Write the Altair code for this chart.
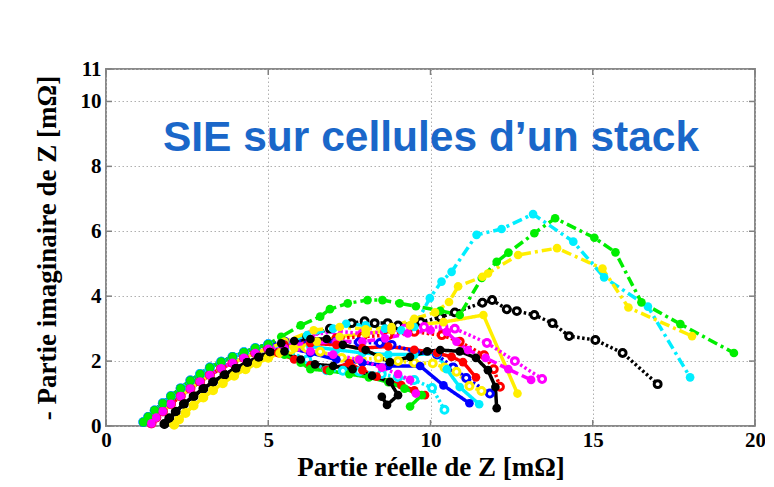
import altair as alt
import pandas as pd

title_text = "SIE sur cellules d\u2019un stack"
x_title = "Partie réelle de Z [mΩ]"
y_title = "- Partie imaginaire de Z [mΩ]"
x_ticks = [0, 5, 10, 15, 20]
y_ticks = [0, 2, 4, 6, 8, 10, 11]

# common high-frequency arcs
arcA_x = [1.15, 1.3, 1.5, 1.75, 2.0, 2.3, 2.6, 2.9, 3.2, 3.55, 3.9, 4.25, 4.6, 5.0]
arcA_y = [0.12, 0.28, 0.48, 0.7, 0.92, 1.16, 1.4, 1.6, 1.8, 1.98, 2.13, 2.27, 2.4, 2.52]
arcB_x = [1.4, 1.55, 1.75, 2.0, 2.3, 2.6, 2.9, 3.2, 3.55, 3.9, 4.25, 4.6, 5.0]
arcB_y = [0.08, 0.26, 0.45, 0.68, 0.92, 1.15, 1.37, 1.57, 1.78, 1.95, 2.1, 2.25, 2.38]
arcC_x = [1.8, 1.95, 2.15, 2.4, 2.7, 3.0, 3.3, 3.65, 4.0, 4.35, 4.7, 5.05]
arcC_y = [0.06, 0.24, 0.44, 0.68, 0.92, 1.15, 1.36, 1.58, 1.78, 1.96, 2.12, 2.28]
arcD_x = [2.1, 2.25, 2.45, 2.7, 3.0, 3.3, 3.6, 3.95, 4.3, 4.65, 5.0, 5.35]
arcD_y = [0.04, 0.2, 0.4, 0.63, 0.88, 1.1, 1.32, 1.55, 1.75, 1.93, 2.1, 2.25]

# low-frequency tails of each cell
s1_x = [5.5, 6.2, 7.0, 7.4, 8.0, 8.6, 9.1, 9.5, 9.98, 10.34, 10.65, 11.42, 12.19, 13.16, 14.4, 15.35, 16.7, 18.0]
s1_y = [2.55, 2.8, 3.0, 3.15, 3.1, 3.0, 2.95, 3.05, 3.94, 4.45, 4.75, 5.89, 6.07, 6.53, 5.68, 4.58, 3.68, 1.5]
s2_x = [5.4, 6.0, 6.6, 6.9, 7.45, 8.06, 8.52, 9.05, 9.55, 10.3, 10.9, 11.58, 12.04, 12.4, 13.2, 13.84, 15.05, 15.7, 16.5, 17.7, 19.35]
s2_y = [2.75, 3.1, 3.37, 3.6, 3.78, 3.88, 3.88, 3.78, 3.69, 3.55, 3.42, 4.56, 5.06, 5.34, 5.94, 6.4, 5.8, 5.35, 3.81, 3.14, 2.25]
s3_x = [5.5, 6.4, 7.2, 8.0, 8.8, 9.5, 10.14, 10.57, 10.85, 11.6, 11.77, 12.7, 13.9, 15.3, 16.1, 18.06]
s3_y = [2.6, 2.95, 3.05, 2.98, 3.05, 3.3, 3.5, 3.82, 4.3, 4.6, 4.7, 5.27, 5.48, 4.85, 3.65, 2.77]
s4_x = [5.5, 6.2, 6.9, 7.57, 7.97, 8.28, 8.68, 9.0, 9.7, 10.3, 10.75, 11.6, 11.9, 12.35, 12.66, 13.2, 13.76, 14.27, 15.08, 15.92, 17.0]
s4_y = [2.45, 2.75, 3.0, 3.17, 3.23, 3.17, 3.17, 3.1, 3.2, 3.35, 3.5, 3.8, 3.88, 3.6, 3.54, 3.42, 3.17, 2.77, 2.65, 2.25, 1.29]
s5_x = [5.4, 5.8, 6.3, 6.8, 7.3, 8.0, 8.75, 9.37, 9.9, 10.3, 10.9, 11.4, 11.77, 12.0, 12.04]
s5_y = [2.55, 2.62, 2.68, 2.68, 2.5, 2.34, 1.97, 2.13, 2.3, 2.34, 2.3, 2.1, 1.72, 1.2, 0.55]
s6_x = [5.8, 6.5, 7.2, 8.0, 8.8, 9.37, 10.4, 11.63, 12.68]
s6_y = [2.4, 2.6, 2.75, 2.85, 2.95, 3.1, 3.2, 3.42, 1.0]
s7_x = [5.5, 6.3, 7.1, 7.9, 8.6, 9.2, 9.8, 10.4, 10.75, 11.74, 12.6, 13.44]
s7_y = [2.6, 2.8, 2.92, 2.85, 2.9, 3.0, 3.05, 3.05, 3.0, 2.56, 2.0, 1.45]
s8_x = [5.5, 6.3, 7.1, 7.9, 8.6, 9.3, 10.0, 10.5, 10.8, 11.15, 11.7, 12.4, 13.1]
s8_y = [2.5, 2.55, 2.6, 2.6, 2.7, 2.85, 2.95, 2.9, 2.6, 2.34, 2.1, 1.75, 1.42]
s9_x = [5.5, 6.3, 7.1, 7.9, 8.7, 9.5, 10.35, 10.9, 11.65, 11.95, 12.14]
s9_y = [2.45, 2.6, 2.7, 2.75, 2.8, 2.9, 2.8, 2.6, 2.18, 1.75, 1.21]
s10_x = [5.5, 6.3, 7.1, 7.8, 8.44, 8.8, 9.5, 10.2, 10.7, 11.1, 11.83]
s10_y = [2.6, 2.6, 2.6, 2.58, 2.56, 2.5, 2.3, 2.2, 1.8, 1.48, 1.0]
s11_x = [5.5, 6.3, 7.1, 7.9, 8.7, 9.5, 10.2, 10.5, 10.9, 11.5]
s11_y = [2.5, 2.45, 2.35, 2.25, 2.2, 2.2, 2.24, 1.75, 1.2, 0.67]
s12_x = [5.7, 6.18, 6.6, 7.26, 7.8, 8.4, 9.0, 9.5, 10.07, 10.43, 10.8, 11.2, 11.57]
s12_y = [2.35, 2.4, 2.29, 2.1, 2.05, 2.1, 2.0, 1.95, 1.93, 1.8, 1.67, 1.23, 1.08]
s13_x = [5.5, 6.3, 7.1, 7.9, 8.7, 9.68, 10.4, 11.2]
s13_y = [2.45, 2.25, 2.05, 1.95, 1.85, 1.85, 1.25, 0.7]
s14_x = [5.3, 5.8, 6.3, 6.8, 7.5, 7.9, 8.34, 9.1, 9.5, 9.83]
s14_y = [2.25, 2.05, 1.88, 1.73, 1.93, 1.72, 1.52, 1.26, 1.1, 0.95]
s15_x = [5.5, 6.3, 7.1, 7.9, 8.7, 9.5, 10.2, 10.65, 11.0, 11.4]
s15_y = [2.5, 2.55, 2.5, 2.4, 2.45, 2.35, 2.25, 2.13, 1.97, 1.5]
s16_x = [5.5, 6.2, 6.8, 7.3, 7.8, 8.5, 9.0, 9.5, 10.05, 10.43]
s16_y = [2.35, 2.05, 1.72, 1.7, 1.68, 1.6, 1.5, 1.42, 1.17, 0.5]
s17_x = [5.5, 6.0, 6.3, 6.9, 7.5, 8.1, 8.7, 9.2, 9.73, 9.37]
s17_y = [2.2, 1.95, 1.75, 1.7, 1.6, 1.5, 1.35, 1.15, 0.95, 0.6]
s18_x = [5.5, 6.0, 6.44, 7.0, 7.6, 8.2, 8.75, 9.0, 8.66, 8.5]
s18_y = [2.3, 2.05, 1.9, 1.85, 1.75, 1.55, 1.36, 0.95, 0.65, 0.9]
s19_x = [5.5, 6.3, 7.0, 7.8, 8.5, 9.0, 9.37, 9.55]
s19_y = [2.4, 2.3, 2.2, 2.05, 1.8, 1.6, 1.42, 1.0]

BLUE, GREEN, RED, CYAN, MAG, YEL, BLK = "#0000ff", "#00ee00", "#ff0000", "#00eeff", "#ff00ff", "#ffee00", "#000000"

# (color, line style, marker, arc x, arc y, tail x, tail y)
series = [
    (CYAN, "dashdot", "filled", arcB_x, arcB_y, s1_x, s1_y),
    (GREEN, "dashdot", "filled", arcA_x, arcA_y, s2_x, s2_y),
    (YEL, "dashdot", "filled", arcB_x, arcB_y, s3_x, s3_y),
    (BLK, "dotted", "open", arcC_x, arcC_y, s4_x, s4_y),
    (MAG, "dotted", "open", arcB_x, arcB_y, s7_x, s7_y),
    (MAG, "dashed", "filled", arcB_x, arcB_y, s8_x, s8_y),
    (RED, "dotted", "open", arcB_x, arcB_y, s9_x, s9_y),
    (BLUE, "dotted", "open", arcA_x, arcA_y, s10_x, s10_y),
    (CYAN, "solid", "filled", arcA_x, arcA_y, s11_x, s11_y),
    (YEL, "dotted", "open", arcD_x, arcD_y, s12_x, s12_y),
    (BLUE, "solid", "filled", arcA_x, arcA_y, s13_x, s13_y),
    (RED, "solid", "filled", arcB_x, arcB_y, s14_x, s14_y),
    (RED, "solid", "filled", arcB_x, arcB_y, s15_x, s15_y),
    (CYAN, "dotted", "open", arcA_x, arcA_y, s16_x, s16_y),
    (GREEN, "solid", "filled", arcA_x, arcA_y, s17_x, s17_y),
    (MAG, "dotted", "filled", arcB_x, arcB_y, s19_x, s19_y),
    (YEL, "solid", "filled", arcD_x, arcD_y, s6_x, s6_y),
    (BLK, "solid", "filled", arcC_x, arcC_y, s18_x, s18_y),
    (BLK, "solid", "filled", arcC_x, arcC_y, s5_x, s5_y),
]

rows = []
for sid, (col, ls, mk, ax, ay, tx, ty) in enumerate(series):
    for i, (x, y) in enumerate(zip(list(ax) + list(tx), list(ay) + list(ty))):
        rows.append(dict(s=sid, c=col, ls=ls, mk=mk, x=x, y=y, o=i))
df = pd.DataFrame(rows)

xscale = alt.Scale(domain=[0, 20], nice=False)
yscale = alt.Scale(domain=[0, 11], nice=False)
xenc = alt.X("x:Q", scale=xscale,
             axis=alt.Axis(values=x_ticks, title=x_title, labelPadding=3, titlePadding=4,
                           labelFlush=False))
yenc = alt.Y("y:Q", scale=yscale,
             axis=alt.Axis(values=y_ticks, title=y_title, labelPadding=5, titlePadding=19,
                           labelFlush=False))
cenc = alt.Color("c:N", scale=None)

dash_patterns = {"solid": [1, 0], "dotted": [2.5, 2.5], "dashed": [8, 4], "dashdot": [10, 4, 3, 4]}
base = alt.Chart(df)
layers = []

# inward tick marks on the frame (MATLAB style)
xt = alt.Chart(pd.DataFrame({"x": x_ticks}))
yt = alt.Chart(pd.DataFrame({"y": y_ticks}))
tick_style = dict(color="#808080", strokeWidth=1.5)
layers.append(xt.mark_rule(**tick_style).encode(x=alt.X("x:Q", scale=xscale), y=alt.value(357), y2=alt.value(351)))
layers.append(xt.mark_rule(**tick_style).encode(x=alt.X("x:Q", scale=xscale), y=alt.value(0), y2=alt.value(6)))
layers.append(yt.mark_rule(**tick_style).encode(y=alt.Y("y:Q", scale=yscale), x=alt.value(0), x2=alt.value(6)))
layers.append(yt.mark_rule(**tick_style).encode(y=alt.Y("y:Q", scale=yscale), x=alt.value(649), x2=alt.value(643)))

for ls, pat in dash_patterns.items():
    layers.append(
        base.transform_filter(alt.datum.ls == ls)
        .mark_line(strokeWidth=3.5, strokeDash=pat)
        .encode(x=xenc, y=yenc, color=cenc, detail="s:N", order="o:Q")
    )
layers.append(
    base.transform_filter(alt.datum.mk == "open")
    .mark_point(filled=False, fill="white", shape="circle", size=48, strokeWidth=3, opacity=1)
    .encode(x=xenc, y=yenc, color=cenc)
)
layers.append(
    base.transform_filter(alt.datum.mk == "filled")
    .mark_point(filled=True, shape="circle", size=75, opacity=1)
    .encode(x=xenc, y=yenc, color=cenc)
)
title_layer = alt.Chart(pd.DataFrame({"t": [title_text]})).mark_text(
    font="Liberation Sans", fontWeight="bold", fontSize=42.5, color="#1a67c9",
    align="center", baseline="alphabetic"
).encode(text="t:N", x=alt.value(325), y=alt.value(82))
layers.append(title_layer)

chart = alt.layer(*layers).properties(
    width=649, height=357,
    autosize=alt.AutoSizeParams(type="none"),
    padding={"left": 98, "top": 61, "right": 10, "bottom": 60},
).configure_view(
    stroke="#8a8a8a", strokeWidth=2
).configure_axis(
    domain=False, ticks=False, grid=True,
    gridColor="#b0b0b0", gridDash=[1.5, 2.5], gridWidth=1,
    labelFont="Liberation Serif", labelFontWeight="bold", labelFontSize=21, labelColor="#000000",
    titleFont="Liberation Serif", titleFontWeight="bold", titleFontSize=27, titleColor="#000000",
)

chart.save("out.html", embed_options={"renderer": "svg", "actions": False})
